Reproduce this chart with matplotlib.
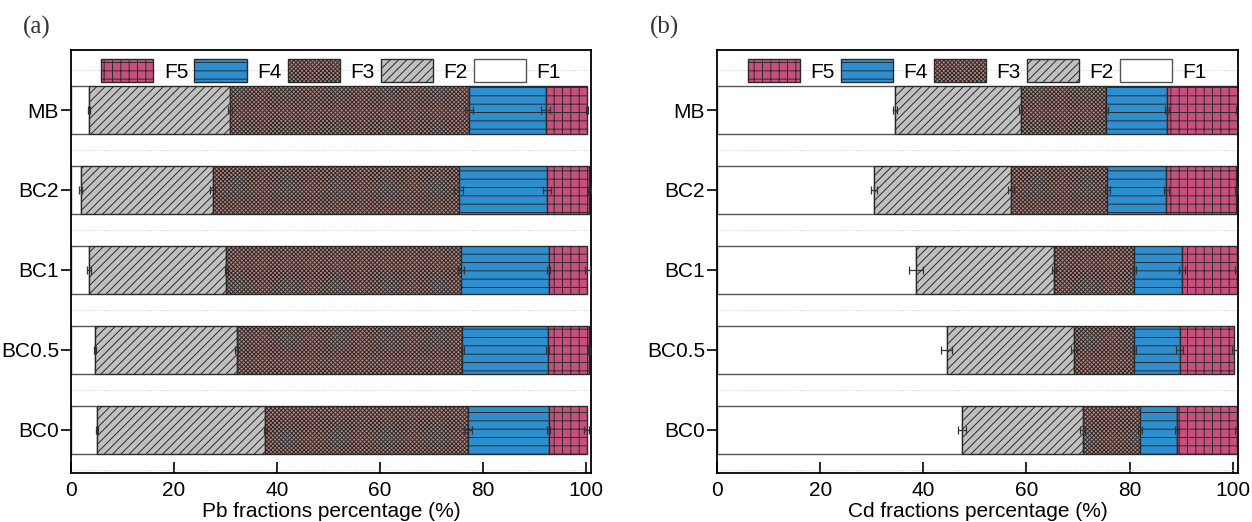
import numpy as np
import matplotlib.pyplot as plt

# samples from bottom to top
samples = ['BC0', 'BC0.5', 'BC1', 'BC2', 'MB']
fractions = ['F1', 'F2', 'F3', 'F4', 'F5']

# Pb fractions (%)
pb_f1 = [5.1, 4.7, 3.5, 1.9, 3.5]
pb_f2 = [32.6, 27.5, 26.7, 25.6, 27.4]
pb_f3 = [39.4, 43.8, 45.6, 47.8, 46.4]
pb_f4 = [15.7, 16.6, 17.0, 17.2, 14.9]
pb_f5 = [7.4, 8.1, 7.5, 8.2, 8.1]
pb_err = [
    [0.2, 0.2, 0.3, 0.3, 0.2],
    [0.3, 0.3, 0.3, 0.5, 0.4],
    [0.8, 0.3, 0.6, 0.9, 0.8],
    [0.3, 0.3, 0.3, 0.8, 0.9],
    [0.5, 0.2, 0.5, 0.3, 0.2],
]

# Cd fractions (%)
cd_f1 = [47.5, 44.5, 38.6, 30.5, 34.5]
cd_f2 = [23.4, 24.7, 26.8, 26.5, 24.4]
cd_f3 = [11.1, 11.7, 15.5, 18.7, 16.6]
cd_f4 = [7.1, 8.8, 9.2, 11.4, 11.7]
cd_f5 = [11.8, 10.6, 10.8, 13.6, 13.8]
cd_err = [
    [0.8, 1.0, 1.3, 0.6, 0.3],
    [0.5, 0.5, 0.4, 0.5, 0.3],
    [0.3, 0.3, 0.3, 0.4, 0.3],
    [0.4, 0.7, 0.6, 0.5, 0.4],
    [0.4, 0.5, 0.4, 0.3, 0.3],
]

colors = ['white', '#c0c0c0', '#b8867f', '#2e8fd0', '#c8507f']
hatches = ['', '////', 'xxxxxxxx', '--', '++']

plt.rcParams['font.family'] = ['Liberation Sans', 'DejaVu Sans']
plt.rcParams['font.size'] = 15
plt.rcParams['hatch.linewidth'] = 0.7


def draw(ax, data, errs, xlabel):
    y = np.arange(len(samples))
    left = np.zeros(len(samples))
    handles = []
    for i, vals in enumerate(data):
        vals = np.array(vals)
        ec = '#555555' if i == 0 else '#2b2b2b'
        b = ax.barh(y, vals, left=left, height=0.6, color=colors[i],
                    edgecolor=ec, linewidth=1.0, hatch=hatches[i],
                    xerr=errs[i], label=fractions[i], zorder=2,
                    error_kw=dict(ecolor='#333333', elinewidth=0.9,
                                  capsize=3, capthick=0.9, zorder=3))
        handles.append(b)
        left += vals

    ax.set_xlim(0, 101)
    ax.set_ylim(-0.54, 4.75)
    ax.set_yticks(y)
    ax.set_yticklabels(samples)
    ax.set_xticks([0, 20, 40, 60, 80, 100])
    ax.set_yticks(list(y + 0.5) + [-0.5], minor=True)
    ax.tick_params(axis='y', which='minor', length=0)
    ax.tick_params(axis='x', direction='in', length=8, width=1.2, pad=6)
    ax.tick_params(axis='y', direction='out', length=7, width=1.2, pad=1.5)
    ax.grid(axis='y', which='minor', color='#d0d0d0', linestyle=':',
            linewidth=0.8, zorder=0)
    for s in ax.spines.values():
        s.set_linewidth(1.3)
    ax.set_xlabel(xlabel, labelpad=1)

    ax.legend(handles[::-1], fractions[::-1], ncol=5, loc='upper center',
              bbox_to_anchor=(0.5, 1.0), frameon=False, handlelength=2.5,
              handleheight=1.25, handletextpad=0.5, columnspacing=0.3,
              borderaxespad=0.05, fontsize=15)


fig = plt.figure(figsize=(12.52, 5.22), dpi=100)
ax1 = fig.add_axes([0.0567, 0.094, 0.4153, 0.81])
ax2 = fig.add_axes([0.5727, 0.094, 0.4161, 0.81])

draw(ax1, [pb_f1, pb_f2, pb_f3, pb_f4, pb_f5], pb_err,
     'Pb fractions percentage (%)')
draw(ax2, [cd_f1, cd_f2, cd_f3, cd_f4, cd_f5], cd_err,
     'Cd fractions percentage (%)')

fig.text(0.029, 0.948, '(a)', family=['Liberation Serif'], fontsize=18,
         ha='center', va='center', color='#333333')
fig.text(0.531, 0.948, '(b)', family=['Liberation Serif'], fontsize=18,
         ha='center', va='center', color='#333333')

fig.savefig('out.png', dpi=100)
